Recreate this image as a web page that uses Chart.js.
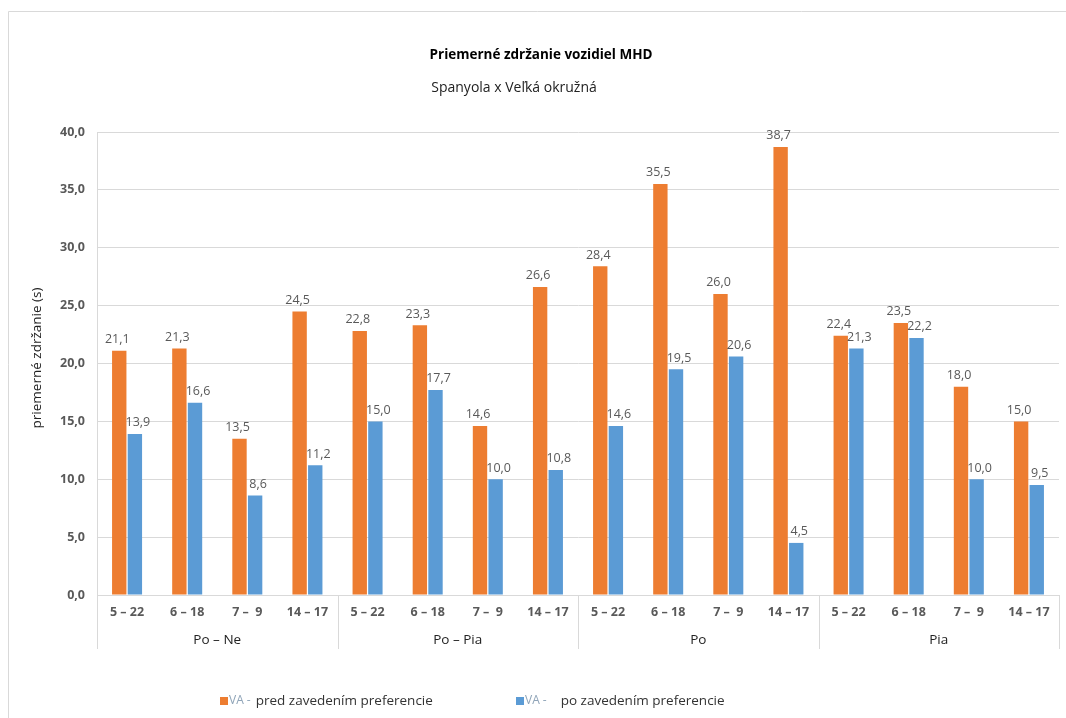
<!DOCTYPE html>
<html>
<head>
<meta charset="utf-8">
<script src="https://cdn.jsdelivr.net/npm/chart.js@4/dist/chart.umd.min.js"></script>
<style>
  html, body { margin: 0; padding: 0; background: #fff; }
  #wrap { position: relative; width: 1066px; height: 718px; }
</style>
</head>
<body>
<div id="wrap"><canvas id="c" width="1066" height="718"></canvas></div>
<script>
// Time windows (hours) within each day group
const hours = ['5 – 22', '6 – 18', '7 –  9', '14 – 17'];
const dayGroups = ['Po – Ne', 'Po – Pia', 'Po', 'Pia'];
const categories = dayGroups.flatMap(() => hours);

// Average delay in seconds, before / after bus priority
const beforePriority = [21.1, 21.3, 13.5, 24.5, 22.8, 23.3, 14.6, 26.6, 28.4, 35.5, 26.0, 38.7, 22.4, 23.5, 18.0, 15.0];
const afterPriority  = [13.9, 16.6, 8.6, 11.2, 15.0, 17.7, 10.0, 10.8, 14.6, 19.5, 20.6, 4.5, 21.3, 22.2, 10.0, 9.5];

const seriesNames = ['pred zavedením preferencie', 'po zavedením preferencie'];
const yTicks = [0, 5, 10, 15, 20, 25, 30, 35, 40];

const ORANGE = '#ED7D31';
const BLUE = '#5B9BD5';
const TEXT = '#595959';
const GRID = '#D9D9D9';
const FONT = '"Open Sans", "Liberation Sans", sans-serif';

const fmt = v => v.toFixed(1).replace('.', ',');

const decorations = {
  id: 'decorations',
  beforeDraw(chart) {
    const ctx = chart.ctx;
    ctx.save();
    ctx.fillStyle = '#fff';
    ctx.fillRect(0, 0, chart.width, chart.height);
    // outer frame
    ctx.strokeStyle = GRID;
    ctx.lineWidth = 1;
    ctx.beginPath();
    ctx.moveTo(8.5, 718);
    ctx.lineTo(8.5, 11.5);
    ctx.lineTo(1066, 11.5);
    ctx.stroke();
    ctx.restore();
  },
  afterDraw(chart) {
    const ctx = chart.ctx;
    const xs = chart.scales.x;
    const area = chart.chartArea;
    ctx.save();

    // titles
    ctx.fillStyle = '#000';
    ctx.textAlign = 'center';
    ctx.textBaseline = 'middle';
    ctx.font = 'bold 13.5px ' + FONT;
    ctx.fillText('Priemerné zdržanie vozidiel MHD', 541, 55);
    ctx.font = '14px ' + FONT;
    ctx.fillStyle = '#222';
    ctx.fillText('Spanyola x Veľká okružná', 514, 88);

    // y axis title
    ctx.save();
    ctx.translate(37, 358);
    ctx.rotate(-Math.PI / 2);
    ctx.font = '13.5px ' + FONT;
    ctx.fillStyle = '#222';
    ctx.fillText('priemerné zdržanie (s)', 0, 0);
    ctx.restore();

    // group separators and group labels under the axis
    const n = categories.length;
    const per = hours.length;
    const edge = i => {
      if (i <= 0) return area.left;
      if (i >= n) return area.right;
      return (xs.getPixelForValue(i - 1) + xs.getPixelForValue(i)) / 2;
    };
    ctx.strokeStyle = GRID;
    ctx.lineWidth = 1;
    for (let g = 0; g <= dayGroups.length; g++) {
      const x = Math.round(edge(g * per)) + 0.5;
      ctx.beginPath();
      ctx.moveTo(x, area.bottom);
      ctx.lineTo(x, area.bottom + 54);
      ctx.stroke();
    }
    ctx.fillStyle = '#222';
    ctx.font = '13.5px ' + FONT;
    dayGroups.forEach((g, gi) => {
      const cx = (edge(gi * per) + edge((gi + 1) * per)) / 2;
      ctx.fillText(g, cx, area.bottom + 45);
    });

    // legend
    const legendY = 701;
    const items = [
      { color: ORANGE, x: 220, name: seriesNames[0] },
      { color: BLUE, x: 516, name: seriesNames[1], gap: 9 }
    ];
    ctx.textAlign = 'left';
    items.forEach(it => {
      ctx.fillStyle = it.color;
      ctx.fillRect(it.x, legendY - 4, 8, 8);
      ctx.font = '12px ' + FONT;
      ctx.fillStyle = '#8FA4B8';
      ctx.fillText('VA -', it.x + 9, legendY);
      const w = ctx.measureText('VA -').width;
      ctx.fillStyle = '#333';
      ctx.font = '13.5px ' + FONT;
      ctx.fillText(it.name, it.x + 9 + w + 5 + (it.gap || 0), legendY);
    });

    ctx.restore();
  },
  afterDatasetsDraw(chart) {
    const ctx = chart.ctx;
    ctx.save();
    ctx.font = '12.5px ' + FONT;
    ctx.fillStyle = TEXT;
    ctx.textAlign = 'center';
    ctx.textBaseline = 'bottom';
    chart.data.datasets.forEach((ds, di) => {
      chart.getDatasetMeta(di).data.forEach((bar, i) => {
        ctx.fillText(fmt(ds.data[i]), bar.x + (di === 0 ? -2 : 3), bar.y - 5);
      });
    });
    ctx.restore();
  }
};

new Chart(document.getElementById('c'), {
  type: 'bar',
  data: {
    labels: categories,
    datasets: [
      { label: seriesNames[0], data: beforePriority, backgroundColor: ORANGE },
      { label: seriesNames[1], data: afterPriority, backgroundColor: BLUE }
    ]
  },
  options: {
    responsive: false,
    animation: false,
    devicePixelRatio: 1,
    layout: { padding: { top: 132, right: 7, left: 0, bottom: 0 } },
    datasets: { bar: { categoryPercentage: 0.52, barPercentage: 0.92 } },
    plugins: {
      legend: { display: false },
      title: { display: false },
      tooltip: { enabled: false }
    },
    scales: {
      x: {
        grid: { display: false, drawTicks: false },
        border: { color: GRID },
        ticks: {
          color: TEXT,
          font: { family: FONT, size: 12.5, weight: 'bold' },
          padding: 10,
          maxRotation: 0,
          autoSkip: false
        },
        afterFit(scale) { scale.height = 123; }
      },
      y: {
        min: 0,
        max: 40,
        afterBuildTicks(scale) { scale.ticks = yTicks.map(v => ({ value: v })); },
        grid: { color: GRID, drawTicks: false },
        border: { display: true, color: GRID },
        ticks: {
          color: TEXT,
          font: { family: FONT, size: 12.5, weight: 'bold' },
          padding: 12,
          callback: v => fmt(v)
        },
        afterFit(scale) { scale.width = 97; }
      }
    }
  },
  plugins: [decorations]
});
</script>
</body>
</html>
